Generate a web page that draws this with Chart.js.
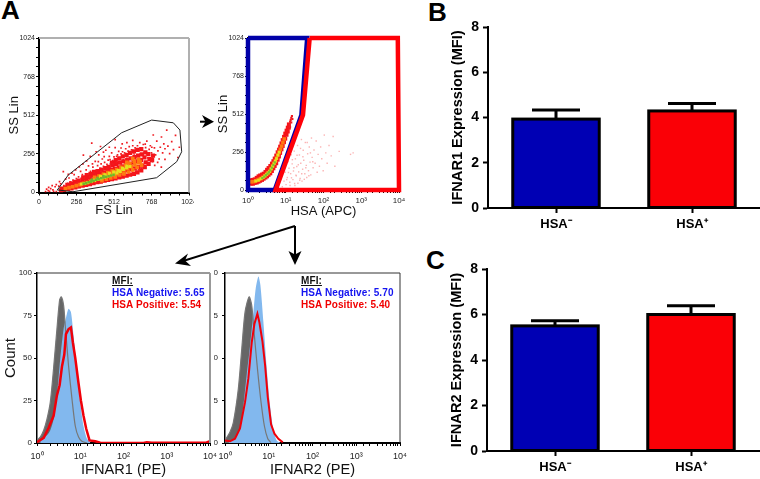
<!DOCTYPE html>
<html><head><meta charset="utf-8">
<style>
html,body{margin:0;padding:0;background:#fff;width:760px;height:479px;overflow:hidden;font-family:"Liberation Sans",Arial,sans-serif}
canvas{position:absolute;display:block}
.t{position:absolute;white-space:nowrap;font-weight:bold;line-height:1}
.p{font-size:26px;color:#000}
.m{font-size:10px;letter-spacing:.1px}
svg{position:absolute;left:0;top:0}
</style>
<script src="https://cdn.jsdelivr.net/npm/chart.js@4"></script>
</head><body>
<div class="t p" style="left:1px;top:-3px">A</div>
<div class="t p" style="left:428px;top:-1px">B</div>
<div class="t p" style="left:426px;top:247px">C</div>
<canvas id="a1"></canvas><canvas id="a2"></canvas><canvas id="h1"></canvas><canvas id="h2"></canvas><canvas id="b"></canvas><canvas id="c"></canvas>
<div class="t m" style="left:112px;top:276px;color:#111;text-decoration:underline">MFI:</div>
<div class="t m" style="left:112px;top:288px;color:#1414f0">HSA Negative: 5.65</div>
<div class="t m" style="left:112px;top:300px;color:#f00000">HSA Positive: 5.54</div>
<div class="t m" style="left:301px;top:276px;color:#111;text-decoration:underline">MFI:</div>
<div class="t m" style="left:301px;top:288px;color:#1414f0">HSA Negative: 5.70</div>
<div class="t m" style="left:301px;top:300px;color:#f00000">HSA Positive: 5.40</div>
<svg width="760" height="479" style="pointer-events:none">
<g fill="#000" stroke="none">
<rect x="200" y="120.7" width="8" height="2"/><path d="M214,121.7 L202,115 L205.5,121.7 L202,128 Z"/>
<path d="M295,226 L183,261" stroke="#000" stroke-width="2" fill="none"/><path d="M175,263.5 L188,253.5 L185,260.5 L191,266 Z"/>
<path d="M295,226 L295,256" stroke="#000" stroke-width="2" fill="none"/><path d="M295,265 L288.5,251 L295,254.5 L301.5,251 Z"/>
</g></svg>
<script>
// ---- Forward/side scatter (panel A, left), dense layers then sparse speckle
const fsRedCore=[[150,14],[156,26],[172,18],[178,32],[198,24],[204,40],[194,50],[222,28],[228,46],[220,60],[248,34],[254,52],[246,70],[272,40],[278,60],[270,78],[298,46],[304,66],[296,86],[302,100],[322,50],[328,74],[320,94],[326,116],[348,56],[354,80],[346,102],[352,124],[372,62],[378,86],[370,112],[376,136],[398,68],[404,94],[396,118],[402,142],[422,72],[428,100],[420,126],[426,152],[448,78],[454,106],[446,134],[452,162],[472,84],[478,112],[470,142],[476,170],[498,88],[504,118],[496,150],[502,180],[498,198],[522,94],[528,126],[520,158],[526,190],[524,214],[548,100],[554,132],[546,166],[552,198],[548,226],[572,106],[578,140],[570,174],[576,206],[572,240],[598,112],[604,146],[596,182],[602,216],[598,250],[622,118],[628,154],[620,190],[626,226],[622,262],[648,124],[654,160],[646,198],[652,234],[648,272],[672,134],[678,168],[670,206],[676,244],[672,282],[698,146],[704,178],[696,214],[702,252],[698,288],[722,168],[728,200],[720,232],[726,266],[748,190],[754,222],[746,254],[772,214],[778,244]];
const fsOrange=[[180,26],[205,32],[230,38],[255,46],[280,52],[305,60],[330,66],[355,74],[380,80],[405,88],[430,94],[455,102],[480,110],[505,118],[530,126],[555,138],[580,150],[605,162],[630,172],[655,184],[680,196],[380,100],[410,108],[440,120],[470,132],[500,142],[530,152],[560,166],[590,180],[620,194],[650,208],[680,220],[430,78],[460,88],[490,96],[520,104],[550,116],[580,124],[610,136],[640,150],[670,166],[700,182],[690,205],[640,225],[600,200]];
const fsYellow=[[290,56],[312,60],[334,66],[356,74],[378,80],[400,86],[422,92],[444,100],[466,108],[488,114],[510,122],[532,130],[554,140],[576,152],[598,164],[620,172],[420,108],[450,118],[480,128],[510,136],[540,146],[570,160],[600,176]];
const fsGreen=[[305,58],[322,62],[339,68],[356,72],[373,78],[390,84],[407,88],[424,94],[441,100],[458,104],[475,108],[492,112],[509,118],[360,84],[400,96],[440,108]];
const fsRedSpeck=[[45,6],[63,13],[52,22],[72,8],[80,26],[95,18],[66,34],[110,38],[118,52],[90,46],[135,42],[148,58],[166,138],[140,72],[170,46],[182,88],[196,60],[205,96],[214,70],[232,82],[240,118],[255,92],[262,64],[270,104],[284,140],[296,118],[303,248],[310,96],[322,150],[330,120],[338,176],[346,104],[360,327],[352,140],[368,168],[376,132],[384,206],[392,150],[400,178],[408,250],[416,160],[424,190],[432,222],[440,174],[448,200],[456,280],[464,186],[472,214],[480,240],[488,190],[496,262],[504,212],[512,236],[520,298],[528,200],[536,250],[544,272],[552,232],[560,256],[568,322],[576,216],[584,262],[592,290],[600,238],[608,274],[616,304],[624,230],[632,282],[640,346],[648,262],[656,296],[664,240],[672,310],[680,276],[688,330],[696,224],[704,292],[712,318],[720,262],[728,298],[736,340],[744,230],[752,286],[760,310],[768,262],[776,232],[780,381],[788,296],[796,250],[804,340],[812,276],[820,222],[828,300],[836,368],[844,262],[852,322],[860,290],[872,414],[880,308],[892,258],[906,337],[918,284],[932,378],[948,232],[958,300],[700,160],[720,172],[750,190],[775,205],[790,180],[810,200],[835,168],[860,220],[660,140],[680,150],[620,118],[640,128],[590,112],[560,104],[540,96],[510,88],[480,82],[440,72],[420,66],[385,60],[355,54],[330,48],[300,46],[270,34],[240,30],[210,24],[180,18],[150,10],[100,8],[118,6],[640,310],[600,330],[560,295],[520,350],[480,300],[440,268],[420,305],[390,270],[350,240],[325,210],[300,190],[275,170],[250,150],[225,128],[200,120],[770,300],[745,262],[725,320],[690,255],[670,285],[650,248],[630,268],[610,224],[590,246],[570,270],[550,196],[530,240],[505,190],[485,218],[465,160],[445,238],[425,146],[405,204],[385,120],[365,190]];
const fsEdgeX=[1022,1022];
const fsEdgeY=[265,1022];
const fsGateX=[125,200,564,769,917,962,974,940,803,232,125];
const fsGateY=[17,116,396,480,462,414,270,204,98,5,17];
// ---- HSA (APC) vs SS (panel A, right)
const hsaRedCore=[[1.08,52],[1.2,44],[1.2,66],[1.35,42],[1.35,68],[1.5,48],[1.5,72],[1.7,50],[1.7,82],[1.9,56],[1.9,92],[2.1,62],[2.1,98],[2.35,68],[2.35,104],[2.6,76],[2.6,110],[2.9,84],[2.9,122],[3.2,92],[3.2,136],[3.5,102],[3.5,148],[3.9,112],[3.9,162],[4.3,128],[4.3,178],[4.7,146],[4.7,194],[5.1,162],[5.1,212],[5.6,180],[5.6,232],[6.1,204],[6.1,254],[6.6,226],[6.6,272],[7.1,250],[7.1,292],[7.7,274],[7.7,314],[8.3,296],[8.3,336],[9,322],[9,358],[9.7,346],[9.7,380],[10.5,372],[10.5,400],[11.3,394],[11.3,420],[12.1,420],[12.1,442]];
const hsaRedThin=[[12.6,440],[13,460],[13.5,472],[14,486],[14.6,498],[15,478],[14,455],[13,425],[1.1,36],[1.05,68]];
const hsaOrange=[[1.2,55],[1.4,56],[1.6,62],[1.8,66],[2,72],[2.25,78],[2.5,86],[2.8,96],[3.1,106],[3.4,116],[3.75,126],[4.1,144],[4.5,162],[4.9,180],[5.3,196],[5.7,214],[6.2,236],[6.7,256],[7.2,274],[7.8,296],[8.4,320],[9.1,344]];
const hsaYellow=[[1.6,60],[1.9,66],[2.2,76],[2.5,84],[2.8,94],[3.1,104],[3.4,114],[3.75,124],[4.1,142],[4.5,160],[4.9,178],[5.3,194],[5.7,212],[6.2,234],[6.7,254]];
const hsaGreen=[[2.4,80],[2.7,90],[3,100],[3.3,110],[3.6,120],[3.9,132],[4.3,150],[4.7,168],[5.1,186]];
const hsaFaint=[[8.1,22],[9,60],[9.6,120],[10.2,36],[11,84],[11.5,190],[12.2,146],[12.8,52],[13.5,110],[14,238],[14.8,176],[15.5,70],[16,128],[16.8,262],[17.5,30],[18,210],[19,96],[19.6,158],[20.5,300],[21,46],[22,122],[23,236],[24,78],[25,180],[26,340],[27,60],[28,140],[29,268],[30,200],[32,110],[33,320],[35,166],[36,84],[38,244],[40,130],[42,290],[44,188],[46,102],[48,350],[50,220],[53,150],[56,270],[60,180],[64,330],[68,120],[72,240],[78,160],[84,290],[90,210],[98,130],[105,370],[115,250],[125,180],[140,300],[160,230],[180,360],[200,160],[260,260],[520,240],[610,250],[22,400],[18,360],[16,320],[13,300],[10.6,70],[11.8,118],[13,30],[14.2,82],[15,204],[16.4,150],[17.2,44],[18.6,100],[19.9,234],[21.5,170],[23.4,66],[24.6,280],[26.5,110],[28.5,224],[31,72],[34,150],[37,320],[41,96],[45,250],[52,190]];
const hsaBlueGateX=[1,37,26,5.1,1,1];
const hsaBlueGateY=[1024,1024,506,0,0,1024];
const hsaRedGateX=[43,9300,10000,5.4,28.6,43];
const hsaRedGateY=[1024,1024,0,0,506,1024];
// ---- IFNAR1 (PE) histogram
const h1GreyX=[1,1.19,1.43,1.7,2.03,2.42,2.89,3.33,3.65,4.12,4.5,5.38,6.43,7.67,9.14,10.9,14.3];
const h1GreyY=[1.6,3.5,7.5,14,24,44,67,84,86,81,69,45,26,10,3.5,1,0];
const h1BlueX=[1.19,1.7,2.03,2.42,2.89,3.46,4.12,4.92,5.38,6.09,7.02,8.39,10,11.9,14.3,17];
const h1BlueY=[2,4.5,7.5,14,28,50,67,76,79,77,63,42,24,10,2.5,0.5];
const h1RedX=[1,1.43,1.86,2.42,2.89,3.33,3.78,4.28,4.67,5.38,6.09,6.77,7.67,9.14,10.35,11.9,13.7,16.4,22.2,29,289,346,450,8350,10000];
const h1RedY=[0.5,3,9,16,28,34,45,52,64,67,68,59,50,35,25,16,8.5,1.5,1,0.2,0,0.4,0.2,0.3,1];
// ---- IFNAR2 (PE) histogram
const h2GreyX=[1,1.3,1.55,2.02,2.41,2.87,3.55,4.08,4.7,5.6,6.67,7.95,9.5,11.3];
const h2GreyY=[1.5,6.5,12,32,55,77,86,81,63,42,24,10,2.5,0.2];
const h2BlueX=[1.19,1.69,2.2,2.63,3.13,3.73,4.46,5.04,5.8,6.44,7.55,9,10.7,12.8,15.2,18.2];
const h2BlueY=[0.2,2.5,8.5,22,40,57,77,91,98,93,71,44,22,7.5,1.5,0.2];
const h2RedX=[1,1.3,1.69,2.2,2.87,3.42,4.08,4.7,5.5,6.1,7.16,8.24,9.5,11.3,13.5,16.6,20.9];
const h2RedY=[1.5,1,2.5,8.5,24,38,59,70,76,71,60,46,27,11,5.5,2.5,0.4];
// ---- Bar panels
const barCategories=['HSA\u207B','HSA\u207A'];
const ifnar1Means=[3.93,4.29];
const ifnar1Upper=[4.33,4.62];
const ifnar2Means=[5.5,6.0];
const ifnar2Upper=[5.72,6.38];
const barColors=['#0000b4','#fa0006'];
const logLabels={1:'10\u2070',10:'10\u00B9',100:'10\u00B2',1000:'10\u00B3',10000:'10\u2074'};

const pts=(xs,ys)=>xs.map((x,i)=>({x,y:ys[i]}));
const obj=a=>a.map(p=>({x:p[0],y:p[1]}));
const F='"Liberation Sans",Arial,sans-serif';

const framePlugin={id:'frame',afterDraw(ch,_,o){
  if(!o||!o.right)return;const a=ch.chartArea,c=ch.ctx;c.save();
  c.strokeStyle=o.top;c.lineWidth=o.topWidth||1;c.beginPath();c.moveTo(a.left,a.top);c.lineTo(a.right,a.top);c.stroke();
  c.strokeStyle=o.right;c.lineWidth=o.rightWidth||1;c.beginPath();c.moveTo(a.right,a.top);c.lineTo(a.right,a.bottom);c.stroke();
  c.restore();}};
const errPlugin={id:'err',afterDatasetsDraw(ch,_,o){
  if(!o||!o.upper)return;const c=ch.ctx,xs=ch.scales.x,ys=ch.scales.y;c.save();c.strokeStyle='#000';c.lineWidth=3;
  o.upper.forEach((u,i)=>{const x=xs.getPixelForValue(i),yt=ys.getPixelForValue(u),yb=ys.getPixelForValue(o.means[i]);
    c.beginPath();c.moveTo(x,yb);c.lineTo(x,yt);c.moveTo(x-24,yt);c.lineTo(x+24,yt);c.stroke();});
  ch.getDatasetMeta(0).data.forEach(e=>{c.strokeRect(e.x-e.width/2,e.y,e.width,e.base-e.y);});
  c.restore();}};

function fitX(h){return s=>{s.height=h;s.paddingLeft=s.paddingRight=s.paddingTop=s.paddingBottom=0;};}
function fitY(w){return s=>{s.width=w;s.paddingLeft=s.paddingRight=s.paddingTop=s.paddingBottom=0;};}

function make(id,p,cfg){
  // p: plot rectangle l,t,r,b ; w,h = axis box sizes ; pt,pr = extra room
  const cv=document.getElementById(id);
  cv.width=Math.round(p.r-p.l+p.w+p.pr);cv.height=Math.round(p.b-p.t+p.pt+p.h);
  cv.style.left=(p.l-p.w)+'px';cv.style.top=(p.t-p.pt)+'px';
  cfg.options.responsive=false;cfg.options.animation=false;
  cfg.options.layout={padding:{top:p.pt,right:p.pr,left:0,bottom:0}};
  cfg.options.plugins=Object.assign({legend:{display:false},tooltip:{enabled:false}},cfg.options.plugins||{});
  cfg.plugins=[framePlugin,errPlugin];
  return new Chart(cv,cfg);
}
const tickGrid=tl=>({display:true,drawOnChartArea:false,drawTicks:true,tickLength:tl,tickColor:'#000',tickWidth:1});
const linFlow=(h,title,pad)=>({type:'linear',min:0,max:1024,afterFit:fitX(h),border:{color:'#000',width:2},grid:tickGrid(3),
  ticks:{stepSize:64,autoSkip:false,maxRotation:0,padding:pad,color:'#222',font:{family:F,size:7},callback:v=>v%256===0?String(v):''},
  title:{display:true,text:title,color:'#111',padding:0,font:{family:F,size:13}}});
const linFlowY=(w,title)=>({type:'linear',min:0,max:1024,afterFit:fitY(w),border:{color:'#000',width:2},grid:tickGrid(3),
  ticks:{stepSize:64,autoSkip:false,padding:1,color:'#222',font:{family:F,size:7},callback:v=>v%256===0?String(v):''},
  title:{display:true,text:title,color:'#111',padding:0,font:{family:F,size:13}}});
const logX=(h,title,size,pad,fs)=>({type:'logarithmic',min:1,max:10000,afterFit:fitX(h),border:{color:'#000',width:2},grid:tickGrid(3),
  ticks:{autoSkip:false,maxRotation:0,padding:pad,color:'#222',font:{family:F,size:fs},callback:v=>logLabels[v]||''},
  title:{display:true,text:title,color:'#111',padding:0,font:{family:F,size:size}}});
const sc=(data,color,r,order)=>({type:'scatter',data,backgroundColor:color,borderWidth:0,pointStyle:'rect',pointRadius:r,order});
const ln=(data,color,w,order)=>({type:'scatter',showLine:true,data,borderColor:color,borderWidth:w,pointRadius:0,fill:false,order,clip:false});

make('a1',{l:39,t:38,r:189,b:192.5,w:32,h:25.5,pt:6,pr:5},{type:'scatter',data:{datasets:[
  ln(pts(fsGateX,fsGateY),'#222',1,0),
  sc(obj(fsGreen),'#6fb52c',1.8,1),
  sc(obj(fsYellow),'#e6e01e',2.2,2),
  sc(obj(fsOrange),'#ff7a10',2.6,3),
  sc(obj(fsRedSpeck),'#f01c22',1.2,4),
  sc(obj(fsRedCore),'#f5141a',3,5),
  ln(pts(fsEdgeX,fsEdgeY),'#c8141e',1.2,6)
]},options:{scales:{x:linFlow(25.5,'FS Lin',2),y:linFlowY(32,'SS Lin')},
  plugins:{frame:{top:'#b0b0b0',topWidth:2,right:'#b0b0b0',rightWidth:2}}}});

make('a2',{l:248,t:38,r:399,b:190,w:32,h:29,pt:6,pr:8},{type:'scatter',data:{datasets:[
  ln(pts(hsaBlueGateX,hsaBlueGateY),'#0000a8',4.5,1),
  ln(pts(hsaRedGateX,hsaRedGateY),'#ff0008',4.5,0),
  sc(obj(hsaGreen),'#7cc02c',1.6,2),
  sc(obj(hsaYellow),'#e6e01e',2,3),
  sc(obj(hsaOrange),'#ff7a10',2.5,4),
  sc(obj(hsaRedThin),'#f01c22',1.5,5),
  sc(obj(hsaRedCore),'#f5141a',2.8,6),
  sc(obj(hsaFaint),'#fbb4b4',1,7)
]},options:{scales:{x:logX(29,'HSA (APC)',13,3,8),y:linFlowY(32,'SS Lin')}}});

function hist(id,p,gX,gY,bX,bY,rX,rY,xT,yAxis,frame,rw){
  make(id,p,{type:'line',data:{datasets:[
    {data:pts(rX,rY),borderColor:'#f0000a',borderWidth:rw,pointRadius:0,tension:0,fill:false,order:0},
    {data:pts(gX,gY),borderColor:'#777',borderWidth:1.2,pointRadius:0,tension:.25,fill:false,order:1},
    {data:pts(bX,bY),borderColor:'#82b8ee',borderWidth:0,backgroundColor:'#82b8ee',pointRadius:0,tension:.25,fill:'origin',order:2},
    {data:pts(gX,gY),borderColor:'#666',borderWidth:0,backgroundColor:'#666',pointRadius:0,tension:.25,fill:'origin',order:3}
  ]},options:{scales:{x:logX(36,xT,14.6,5,9),y:yAxis},plugins:{frame}}});
}
const histY=(w,title,pad)=>({type:'linear',min:0,max:100,afterFit:fitY(w),border:{color:'#000',width:1.5},grid:tickGrid(3),
  ticks:{stepSize:25,padding:pad,color:'#222',font:{family:F,size:8}},
  title:{display:!!title,text:title,color:'#111',padding:0,font:{family:F,size:15}}});
hist('h1',{l:37,t:272.6,r:210,b:442.6,w:35,h:36,pt:6,pr:7},h1GreyX,h1GreyY,h1BlueX,h1BlueY,h1RedX,h1RedY,'IFNAR1 (PE)',histY(35,'Count',2),{top:'#333',topWidth:1,right:'#999',rightWidth:2},2.5);
hist('h2',{l:225,t:272.6,r:400,b:442.6,w:11,h:36,pt:6,pr:7},h2GreyX,h2GreyY,h2BlueX,h2BlueY,h2RedX,h2RedY,'IFNAR2 (PE)',histY(11,'',4),{top:'#333',topWidth:1,right:'#333',rightWidth:1},2);

function bars(id,p,means,upper,title){
  make(id,p,{type:'bar',data:{labels:barCategories,datasets:[{data:means,backgroundColor:barColors,borderWidth:0,
      barPercentage:.636,categoryPercentage:1}]},
    options:{scales:{
      x:{type:'category',afterFit:fitX(p.h),border:{color:'#000',width:2},grid:{display:true,offset:false,drawOnChartArea:false,tickLength:5,tickColor:'#000',tickWidth:2},
        ticks:{padding:4,maxRotation:0,color:'#000',font:{family:F,size:13,weight:'bold'}}},
      y:{type:'linear',min:0,max:8,afterFit:fitY(p.w),border:{color:'#000',width:2},grid:{display:true,drawOnChartArea:false,tickLength:5,tickColor:'#000',tickWidth:2},
        ticks:{stepSize:2,padding:4,color:'#000',font:{family:F,size:14,weight:'bold'}},
        title:{display:true,text:title,color:'#000',padding:0,font:{family:F,size:14.6,weight:'bold'}}}},
      plugins:{err:{means,upper}}}});
}
bars('b',{l:488,t:26.7,r:760,b:208,w:39,h:30,pt:9,pr:0},ifnar1Means,ifnar1Upper,'IFNAR1 Expression (MFI)');
bars('c',{l:487,t:269,r:759,b:450.7,w:39,h:28,pt:9,pr:1},ifnar2Means,ifnar2Upper,'IFNAR2 Expression (MFI)');
</script>
</body></html>
